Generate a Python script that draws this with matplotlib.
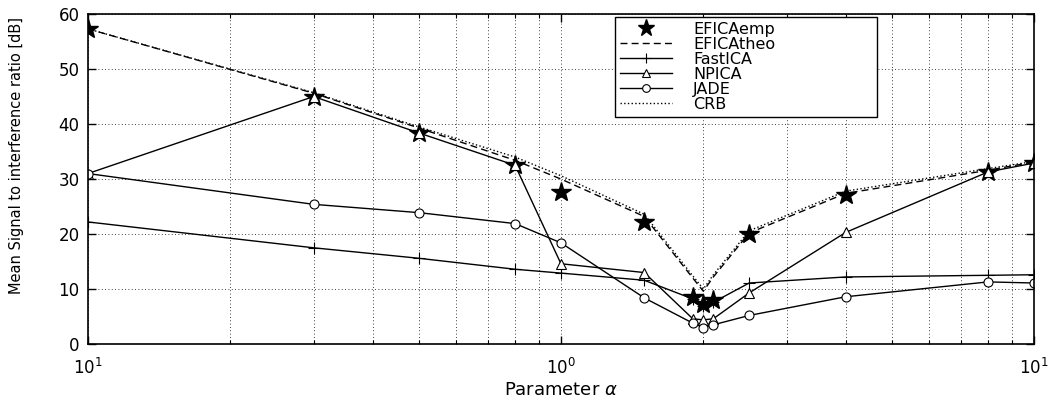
import matplotlib
matplotlib.use("Agg")
import matplotlib.pyplot as plt
from matplotlib.ticker import FixedLocator, FixedFormatter, LogLocator, NullFormatter

plt.rcParams['font.family'] = ['DejaVu Sans']
plt.rcParams['mathtext.fontset'] = 'dejavusans'

# parameter values (log axis)
alpha = [0.1, 0.3, 0.5, 0.8, 1.0, 1.5, 1.9, 2.0, 2.1, 2.5, 4.0, 8.0, 10.0]

# mean SIR in dB for each method
efica_emp = [57.3, 45.0, 38.4, 32.5, 27.7, 22.2, 8.6, 7.3, 8.0, 20.0, 27.1, 31.3, 32.9]
efica_theo = [57.3, 45.6, 39.3, 33.4, 30.0, 23.2, 12.0, 9.6, 12.2, 20.2, 27.4, 31.6, 33.1]
fastica = [22.2, 17.5, 15.6, 13.6, 12.9, 11.6, 8.2, 7.0, 7.6, 11.1, 12.2, 12.5, 12.6]
npica = [31.0, 45.0, 38.4, 32.5, 14.6, 13.0, 4.6, 4.4, 4.6, 9.3, 20.3, 31.3, 32.9]
jade = [31.0, 25.4, 23.9, 21.9, 18.4, 8.4, 3.8, 3.0, 3.5, 5.2, 8.6, 11.3, 11.1]
crb = [57.3, 45.7, 39.5, 34.0, 30.6, 23.6, 12.4, 10.0, 12.6, 20.6, 27.8, 31.9, 33.2]

xtick_vals = [0.1, 1.0, 10.0]
xtick_text = ['$10^{1}$', '$10^{0}$', '$10^{1}$']

fig = plt.figure(figsize=(10.56, 4.01), dpi=100)
ax = fig.add_axes([0.0833, 0.142, 0.8958, 0.823])

ax.plot(alpha, efica_emp, linestyle='none', marker='*', markersize=15,
        color='k', label='EFICAemp')
ax.plot(alpha, efica_theo, '--', color='k', lw=1.0, dashes=(5, 3), label='EFICAtheo')
ax.plot(alpha, fastica, '-', color='k', lw=1.0, marker='+', markersize=9,
        markeredgewidth=0.8, label='FastICA')
ax.plot(alpha, npica, '-', color='k', lw=1.0, marker='^', markersize=7,
        markerfacecolor='white', markeredgewidth=0.8, label='NPICA')
ax.plot(alpha, jade, '-', color='k', lw=1.0, marker='o', markersize=6.5,
        markerfacecolor='white', markeredgewidth=0.8, label='JADE')
ax.plot(alpha, crb, ':', color='k', lw=1.0, label='CRB')

ax.set_xscale('log')
ax.set_xlim(0.1, 10)
ax.set_ylim(0, 60)
ax.set_yticks([0, 10, 20, 30, 40, 50, 60])
ax.xaxis.set_major_locator(FixedLocator(xtick_vals))
ax.xaxis.set_major_formatter(FixedFormatter(xtick_text))
ax.xaxis.set_minor_locator(LogLocator(base=10, subs=range(2, 10)))
ax.xaxis.set_minor_formatter(NullFormatter())

ax.grid(True, which='both', axis='x', linestyle=(0, (1, 3)), color='k', lw=0.6)
ax.grid(True, which='major', axis='y', linestyle=(0, (1, 3)), color='k', lw=0.6)

ax.tick_params(which='both', direction='in', top=True, right=True, labelsize=12)
ax.tick_params(which='major', length=6, width=1)
ax.tick_params(which='minor', length=3, width=0.8)
ax.tick_params(axis='x', pad=10)
ax.tick_params(axis='y', pad=6)
for s in ax.spines.values():
    s.set_linewidth(1.2)

ax.set_xlabel('Parameter $\\alpha$', fontsize=13, labelpad=2)
ax.set_ylabel('Mean Signal to interference ratio [dB]', fontsize=10.5,
              family=['Liberation Sans Narrow', 'DejaVu Sans'])
ax.yaxis.set_label_coords(-0.068, 0.57)

# legend box stretched to a fixed width
leg = ax.legend(loc='upper left', bbox_to_anchor=(0.557, 0.991, 0.277, 0.0),
                mode='expand', fontsize=11.5, handlelength=3.3, borderpad=0.3,
                labelspacing=0.0, handletextpad=1.3, borderaxespad=0.0,
                markerscale=0.85, frameon=True, fancybox=False, framealpha=1)
leg.get_frame().set_edgecolor('k')
leg.get_frame().set_linewidth(1.0)

fig.savefig('out.png', dpi=100)
